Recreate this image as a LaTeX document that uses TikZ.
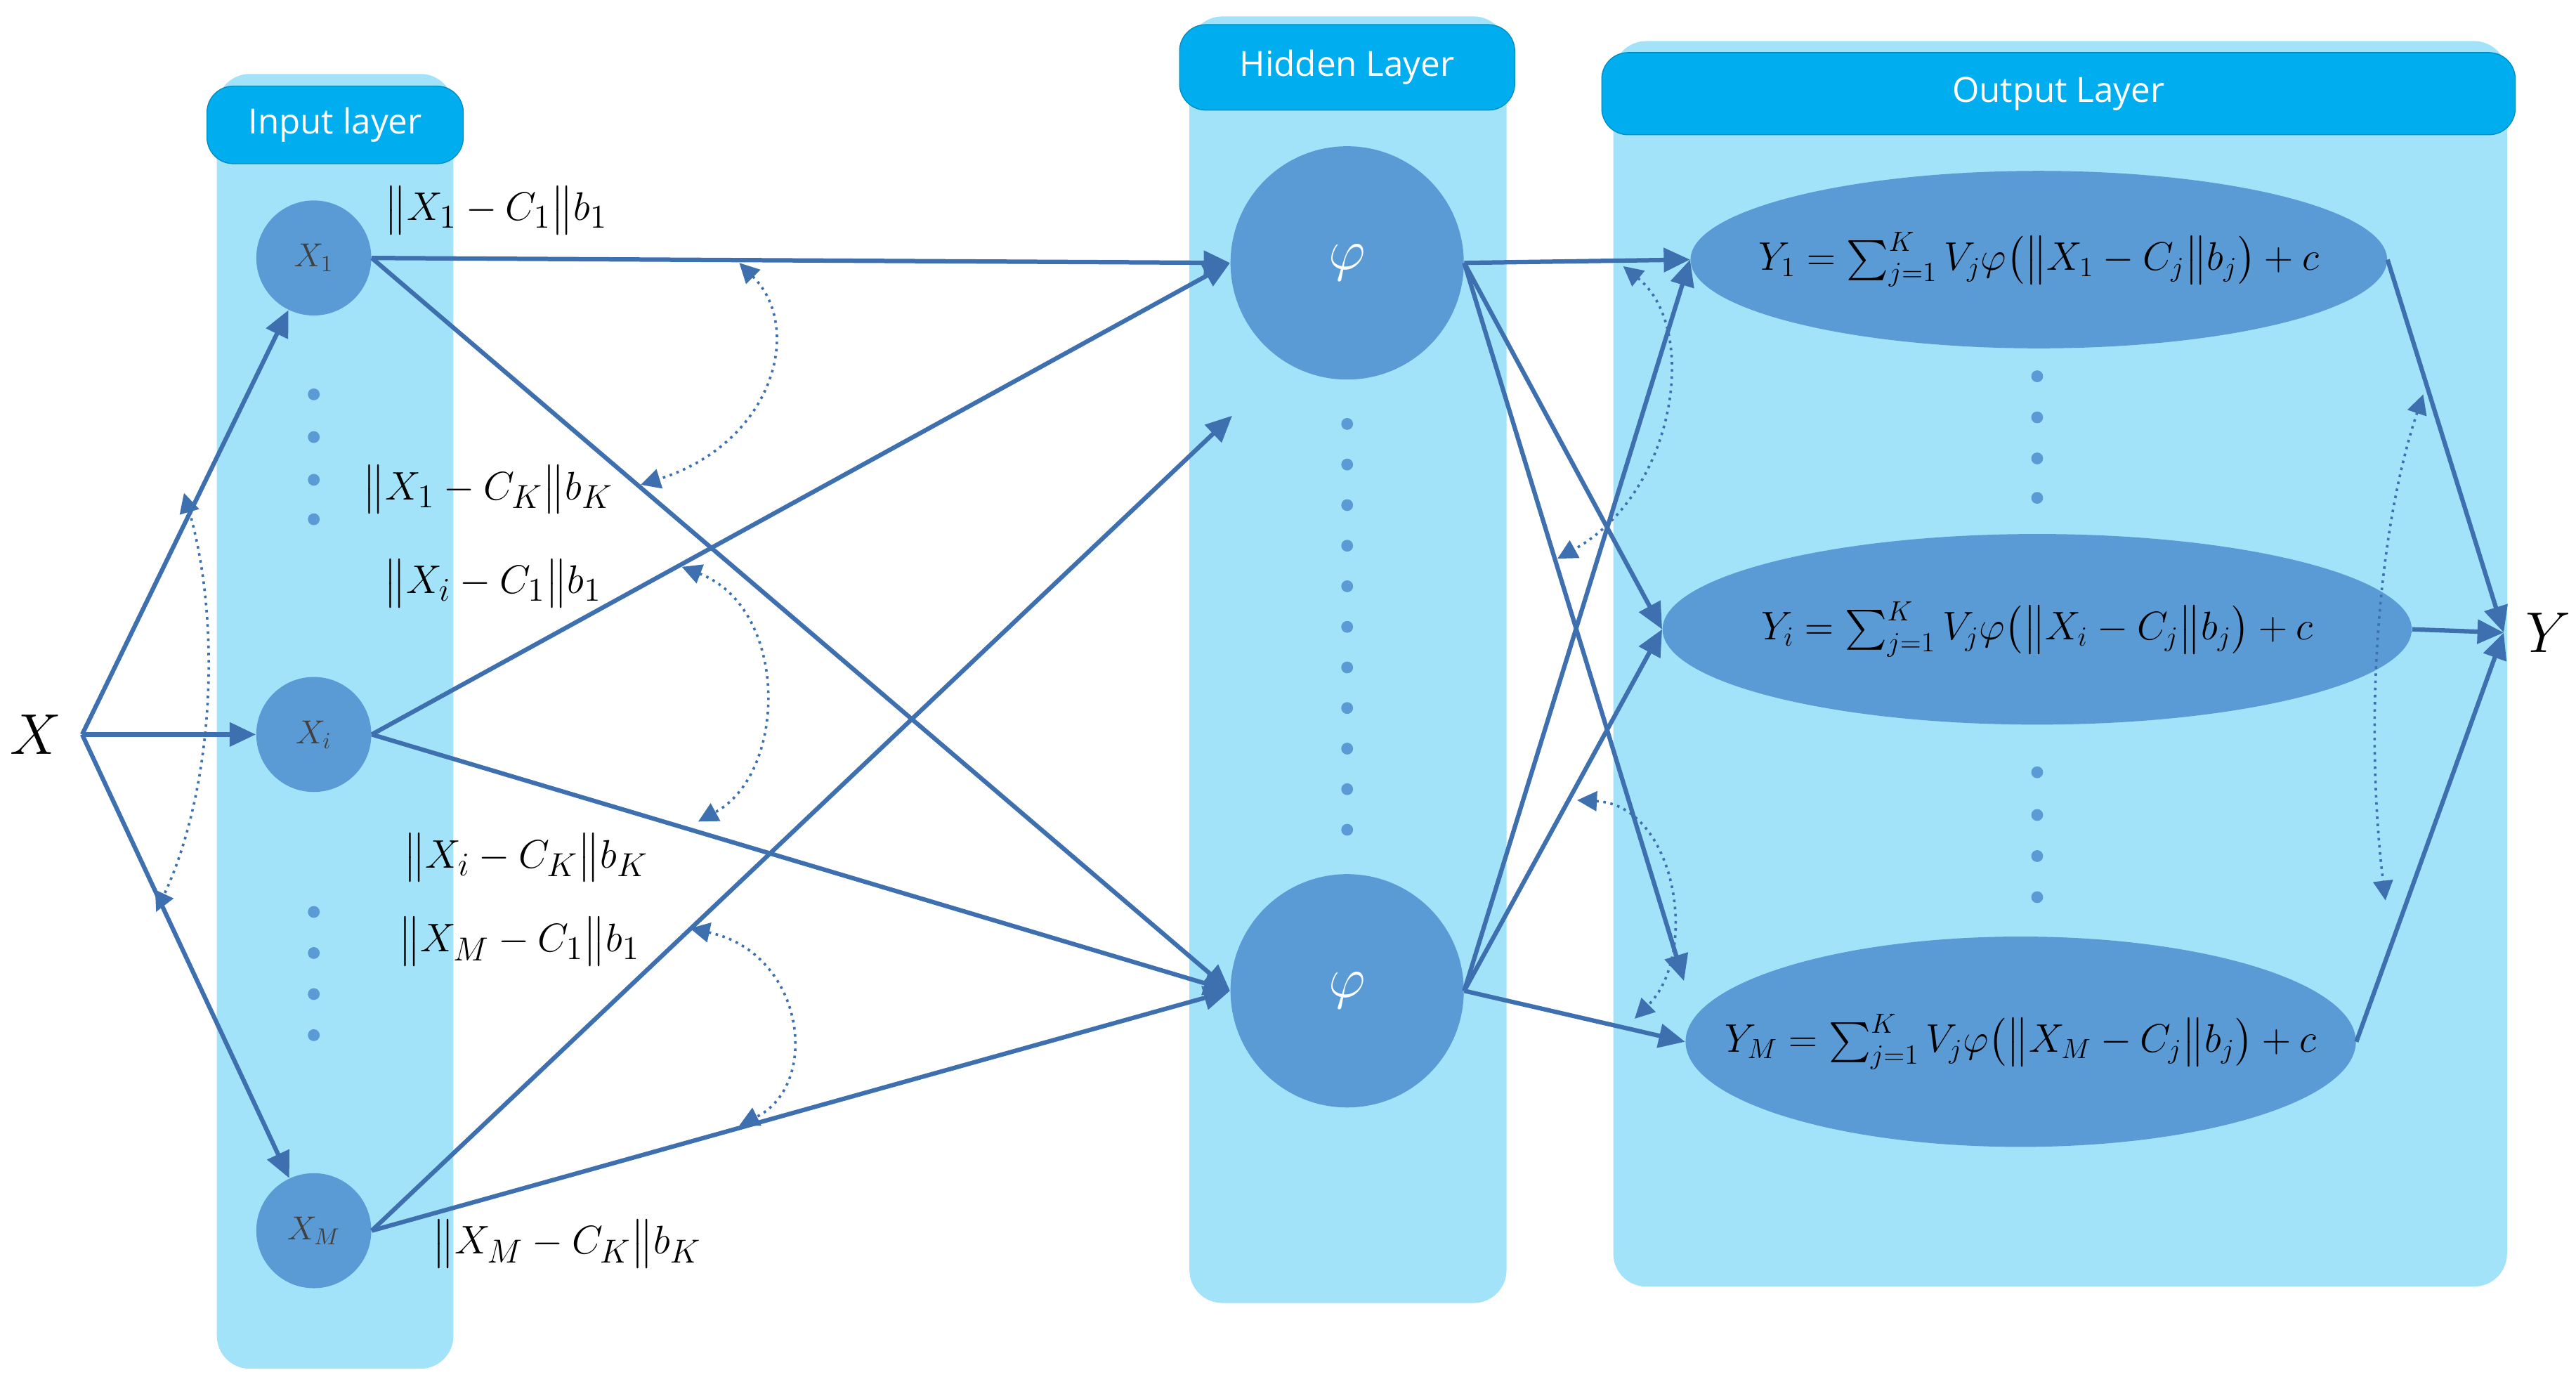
\documentclass[tikz,border=0pt]{standalone}
\usepackage{amsmath}
\usepackage{fontspec}
\setmainfont{Open Sans}
\usetikzlibrary{arrows.meta,shapes.geometric}
\definecolor{col}{HTML}{A3E3FA}
\definecolor{hdr}{HTML}{00AEEF}
\definecolor{nd}{HTML}{5B9BD5}
\definecolor{ar}{HTML}{3E70B0}
\begin{document}
\begin{tikzpicture}[x=0.25mm,y=-0.25mm,
  column/.style={fill=col,rounded corners=5mm},
  header/.style={fill=hdr,draw=hdr!80!black,line width=0.4pt,rounded corners=4mm,text=white,font=\fontsize{15}{18}\selectfont},
  inp/.style={circle,fill=nd,minimum size=17.5mm,inner sep=0pt,text=black!75,font=\Large},
  hid/.style={circle,fill=nd,minimum size=35.5mm,inner sep=0pt,text=white,font=\fontsize{44}{50}\selectfont},
  outp/.style={ellipse,fill=nd,inner sep=0pt},
  otext/.style={font=\fontsize{17}{20}\selectfont,inner sep=0pt},
  dot/.style={circle,fill=nd,inner sep=0pt,minimum size=1.8mm},
  a/.style={draw=ar,line width=1.9pt,-{Triangle[length=4mm,width=3.6mm]}},
  d/.style={draw=ar,dotted,line width=1.1pt,{Triangle[length=3mm,width=3mm]}-{Triangle[length=3mm,width=3mm]}},
  lab/.style={font=\fontsize{19}{22}\selectfont}]
\useasboundingbox (0,0) rectangle (1568,845);
% columns
\fill[column] (132,45) rectangle (276,833);
\fill[column] (724,10) rectangle (917,793);
\fill[column] (982,25) rectangle (1526,783);
\node[header,minimum width=39mm,minimum height=11.8mm] (hin) at (204,76) {Input layer};
\node[header,minimum width=51mm,minimum height=13mm] (hhid) at (820,41) {Hidden Layer};
\node[header,minimum width=139mm,minimum height=12.5mm] (hout) at (1253,57) {Output Layer};
% input nodes
\node[inp] (x1) at (191,157) {$X_1$};
\node[inp] (xi) at (191,447) {$X_i$};
\node[inp] (xm) at (191,749) {$X_M$};
\foreach \y/\n in {240/a,266/b,292/c,316/e,555/f,580/g,605/h,630/k}
  \node[dot] (id\n) at (191,\y) {};
% hidden
\node[hid] (h1) at (820,160) {$\varphi$};
\node[hid] (h2) at (820,603) {$\varphi$};
\foreach \i in {0,...,10}
  \node[dot] (hd\i) at (820,{258+24.7*\i}) {};
% outputs
\node[outp,minimum width=106mm,minimum height=27mm] (y1) at (1241,158) {};
\node[outp,minimum width=114mm,minimum height=29mm] (yi) at (1240,383) {};
\node[outp,minimum width=102mm,minimum height=32mm] (ym) at (1230,634) {};
\node[otext] (t1) at (y1.center) {$Y_1=\sum\nolimits_{j=1}^{K}V_j\varphi\big(\big\|X_1-C_j\big\|b_j\big)+c$};
\node[otext] (ti) at (yi.center) {$Y_i=\sum\nolimits_{j=1}^{K}V_j\varphi\big(\big\|X_i-C_j\big\|b_j\big)+c$};
\node[otext] (tm) at (ym.center) {$Y_M=\sum\nolimits_{j=1}^{K}V_j\varphi\big(\big\|X_M-C_j\big\|b_j\big)+c$};
\foreach \y/\n in {229/a,254/b,279/c,303/e,470/f,496/g,521/h,546/k}
  \node[dot] (od\n) at (1240,\y) {};
% X and Y
\node[font=\fontsize{30}{34}\selectfont] (X) at (22,447) {$X$};
\node[font=\fontsize{30}{34}\selectfont] (Y) at (1551,385) {$Y$};
\coordinate (xs) at (50,447);
\coordinate (ye) at (1524,385);
\coordinate (hm) at (750,253);
\coordinate (ymt) at (1025,597);
% arrows
\draw[a] (xs) -- (x1);
\draw[a] (xs) -- (xi);
\draw[a] (xs) -- (xm);
\draw[a] (x1.east) -- (h1.west);
\draw[a] (x1.east) -- (h2.west);
\draw[a] (xi.east) -- (h1.west);
\draw[a] (xi.east) -- (h2.west);
\draw[a] (xm.east) -- (hm);
\draw[a] (xm.east) -- (h2.west);
\draw[a] (h1.east) -- (y1.west);
\draw[a] (h1.east) -- (yi.west);
\draw[a] (h1.east) -- (ymt);
\draw[a] (h2.east) -- (y1.west);
\draw[a] (h2.east) -- (yi.west);
\draw[a] (h2.east) -- (ym.west);
\draw[a] (y1.east) -- (ye);
\draw[a] (yi.east) -- (ye);
\draw[a] (ym.east) -- (ye);
% dotted curved arrows
\draw[d] (450,160) .. controls (490,200) and (470,270) .. (390,295);
\draw[d] (415,345) .. controls (480,370) and (480,470) .. (425,500);
\draw[d] (420,565) .. controls (490,580) and (500,660) .. (450,685);
\draw[d] (112,300) .. controls (135,380) and (130,480) .. (95,555);
\draw[d] (988,162) .. controls (1035,200) and (1020,300) .. (948,340);
\draw[d] (960,487) .. controls (1020,490) and (1035,580) .. (995,620);
\draw[d] (1475,240) .. controls (1445,330) and (1440,450) .. (1452,548);
% labels
\node[lab] (l1) at (302,128) {$\big\|X_1-C_1\big\|b_1$};
\node[lab] (l2) at (297,298) {$\big\|X_1-C_K\big\|b_K$};
\node[lab] (l3) at (300,355) {$\big\|X_i-C_1\big\|b_1$};
\node[lab] (l4) at (320,522) {$\big\|X_i-C_K\big\|b_K$};
\node[lab] (l5) at (316,573) {$\big\|X_M-C_1\big\|b_1$};
\node[lab] (l6) at (345,757) {$\big\|X_M-C_K\big\|b_K$};
\end{tikzpicture}
\end{document}
